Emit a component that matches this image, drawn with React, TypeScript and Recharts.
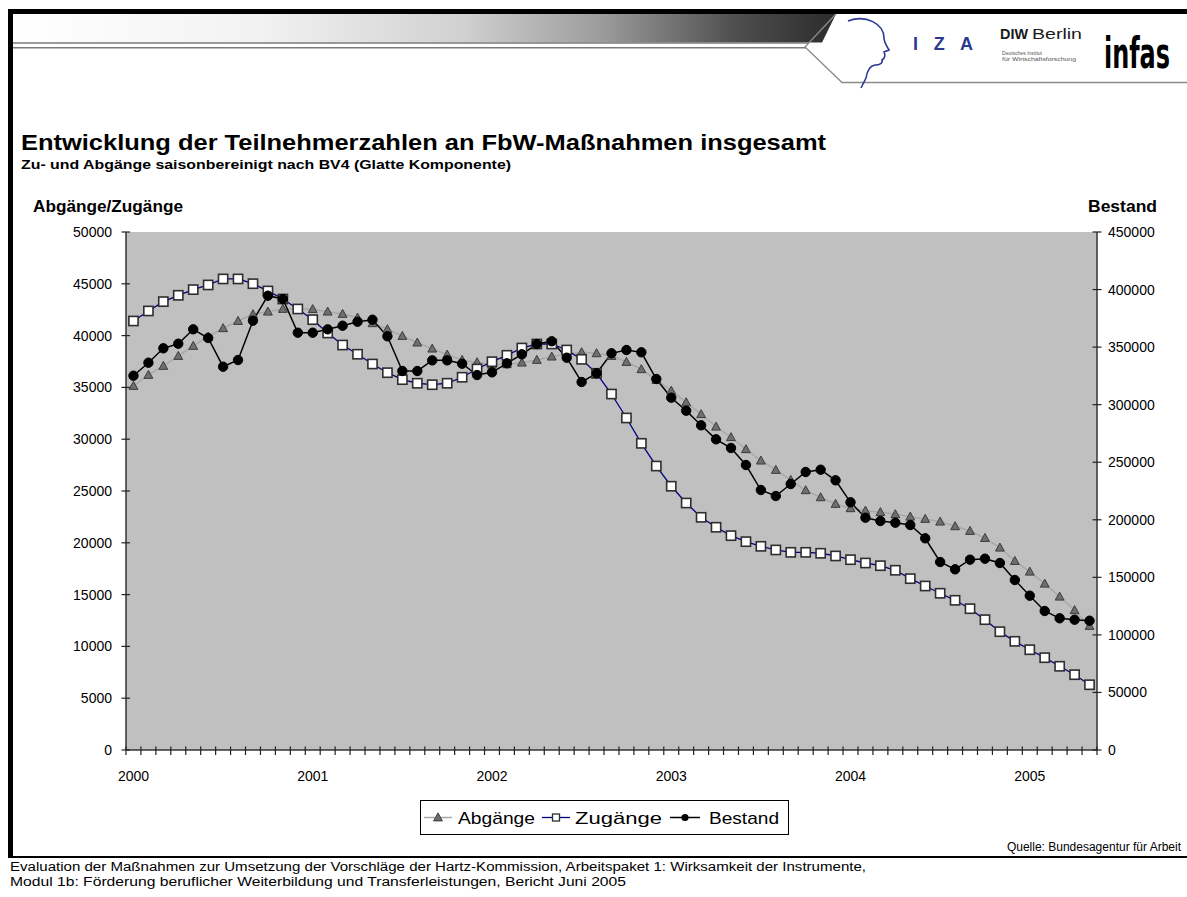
import React from 'react';
import { ComposedChart, Line, XAxis, YAxis, CartesianGrid } from 'recharts';

const months = [
  '2000-01','2000-02','2000-03','2000-04','2000-05','2000-06','2000-07','2000-08','2000-09','2000-10','2000-11','2000-12',
  '2001-01','2001-02','2001-03','2001-04','2001-05','2001-06','2001-07','2001-08','2001-09','2001-10','2001-11','2001-12',
  '2002-01','2002-02','2002-03','2002-04','2002-05','2002-06','2002-07','2002-08','2002-09','2002-10','2002-11','2002-12',
  '2003-01','2003-02','2003-03','2003-04','2003-05','2003-06','2003-07','2003-08','2003-09','2003-10','2003-11','2003-12',
  '2004-01','2004-02','2004-03','2004-04','2004-05','2004-06','2004-07','2004-08','2004-09','2004-10','2004-11','2004-12',
  '2005-01','2005-02','2005-03','2005-04','2005-05',
];

const yearLabels = ['2000', '2001', '2002', '2003', '2004', '2005'];

const abgaenge = [
  35140, 36200, 37070, 38030, 39000, 39900, 40710, 41410, 42060, 42310,
  42570, 42600, 42550, 42310, 42090, 41730, 41190, 40610, 39960, 39320,
  38740, 38160, 37650, 37420, 37190, 37230, 37390, 37650, 37970, 38200,
  38390, 38290, 38030, 37450, 36750, 35720, 34680, 33560, 32410, 31210,
  30190, 29030, 27930, 27030, 26060, 25070, 24390, 23750, 23330, 23100,
  22950, 22750, 22520, 22300, 22040, 21590, 21140, 20460, 19530, 18240,
  17210, 16050, 14800, 13490, 11970,
];

const zugaenge = [
  41410, 42380, 43280, 43890, 44440, 44890, 45470, 45470, 45010, 44310,
  43530, 42570, 41540, 40250, 39090, 38200, 37260, 36420, 35750, 35400,
  35260, 35400, 35980, 36780, 37480, 38100, 38800, 39190, 39190, 38610,
  37710, 36360, 34360, 32050, 29600, 27410, 25460, 23840, 22460, 21500,
  20690, 20110, 19660, 19310, 19080, 19080, 18990, 18730, 18370, 18050,
  17790, 17350, 16540, 15830, 15130, 14450, 13640, 12580, 11420, 10490,
  9680, 8910, 8080, 7270, 6300,
];

const bestand = [
  325150, 336450, 348950, 352950, 365450, 357900, 332970, 338790, 372940, 394650,
  391780, 362510, 362510, 365450, 368590, 372070, 373800, 359380, 329240, 329240,
  338500, 338500, 335580, 325760, 328100, 335930, 343740, 352690, 355040, 340800,
  319680, 327240, 344610, 347480, 345480, 322290, 306050, 294750, 282070, 269900,
  262350, 247580, 225860, 220650, 231070, 241500, 243500, 234280, 215170, 201800,
  198930, 197460, 195460, 183900, 163320, 156970, 165320, 166180, 162450, 147680,
  134040, 120750, 114410, 113190, 112320,
];

const leftTicks = [0, 5000, 10000, 15000, 20000, 25000, 30000, 35000, 40000, 45000, 50000];
const rightTicks = [0, 50000, 100000, 150000, 200000, 250000, 300000, 350000, 400000, 450000];

const seriesNames = ['Abgänge', 'Zugänge', 'Bestand'];

const data = months.map((m, i) => ({
  month: m,
  abg: abgaenge[i],
  zug: zugaenge[i],
  best: bestand[i],
}));

// layout
const W = 1187;
const H = 897;
const YW = 60;
const XH = 40;
const MARGIN = { top: 232, left: 66, right: 30, bottom: 107 };
const PL = MARGIN.left + YW;
const PR = W - MARGIN.right - YW;
const PB = H - MARGIN.bottom - XH;
const STEP = (PR - PL) / months.length;
const XPAD = { left: STEP / 2, right: STEP / 2 };

const FONT = '"Liberation Sans", Arial, Helvetica, sans-serif';

const XTick = (p: any) => {
  const { x, payload, index } = p;
  const m = String(payload.value);
  const yr = m.slice(0, 4);
  const showYear = m.endsWith('-01') && yearLabels.includes(yr);
  const isLast = index === months.length - 1;
  return (
    <g>
      <line x1={x - STEP / 2} x2={x - STEP / 2} y1={PB - 3.5} y2={PB + 5} stroke="#222" strokeWidth={1.2} />
      {isLast && (
        <line x1={x + STEP / 2} x2={x + STEP / 2} y1={PB - 3.5} y2={PB + 5} stroke="#222" strokeWidth={1.2} />
      )}
      {showYear && (
        <text x={x} y={PB + 31} textAnchor="middle" fontSize={14} fontFamily={FONT} fill="#000">
          {yr}
        </text>
      )}
    </g>
  );
};

const LTick = (p: any) => {
  const { y, payload } = p;
  return (
    <g>
      <line x1={PL - 4.5} x2={PL + 4} y1={y} y2={y} stroke="#222" strokeWidth={1.2} />
      <text x={PL - 14} y={y} dy={5} textAnchor="end" fontSize={14} fontFamily={FONT} fill="#000">
        {payload.value}
      </text>
    </g>
  );
};

const RTick = (p: any) => {
  const { y, payload } = p;
  return (
    <g>
      <line x1={PR - 4.5} x2={PR + 4.5} y1={y} y2={y} stroke="#222" strokeWidth={1.2} />
      <text x={PR + 11} y={y} dy={5} textAnchor="start" fontSize={14} fontFamily={FONT} fill="#000">
        {payload.value}
      </text>
    </g>
  );
};

const triDot = (p: any) => {
  const { cx, cy, index } = p;
  if (cx == null || cy == null) return <g key={`t${index}`} />;
  return (
    <path
      key={`t${index}`}
      d={`M${cx},${cy - 4.6} L${cx + 4.4},${cy + 3.4} L${cx - 4.4},${cy + 3.4} Z`}
      fill="#6e6e6e"
      stroke="#3c3c3c"
      strokeWidth={1}
    />
  );
};

const sqDot = (p: any) => {
  const { cx, cy, index } = p;
  if (cx == null || cy == null) return <g key={`s${index}`} />;
  return (
    <rect
      key={`s${index}`}
      x={cx - 4.6}
      y={cy - 4.6}
      width={9.2}
      height={9.2}
      fill="#ffffff"
      stroke="#2e2e2e"
      strokeWidth={1.6}
    />
  );
};

const circDot = (p: any) => {
  const { cx, cy, index } = p;
  if (cx == null || cy == null) return <g key={`c${index}`} />;
  return <circle key={`c${index}`} cx={cx} cy={cy} r={4.7} fill="#000" stroke="#000" strokeWidth={1} />;
};

const Overlay = () => (
  <svg width={W} height={H} style={{ position: 'absolute', left: 0, top: 0 }}>
    <defs>
      <linearGradient id="hdr" x1="13" y1="0" x2="835" y2="0" gradientUnits="userSpaceOnUse">
        <stop offset="0" stopColor="#ffffff" />
        <stop offset="0.3" stopColor="#f2f2f2" />
        <stop offset="0.55" stopColor="#d0d0d0" />
        <stop offset="0.72" stopColor="#9a9a9a" />
        <stop offset="0.88" stopColor="#4e4e4e" />
        <stop offset="1" stopColor="#2c2c2c" />
      </linearGradient>
    </defs>
    {/* frame */}
    <rect x={8} y={9} width={W - 8} height={5} fill="#000" />
    <rect x={8} y={9} width={5} height={849} fill="#000" />
    <rect x={8} y={856} width={W - 8} height={2} fill="#000" />
    {/* header band */}
    <polygon points="13,14 836,14 822,42.5 13,42.5" fill="url(#hdr)" />
    <line x1={13} x2={808} y1={43} y2={43} stroke="#7a7a7a" strokeWidth={1.6} />
    <line x1={13} x2={806} y1={47.8} y2={47.8} stroke="#7a7a7a" strokeWidth={1.6} />
    <polyline points="836,14 805,47 842,82.5 1187,82.5" fill="none" stroke="#8a8a8a" strokeWidth={1.3} />
    {/* IZA logo */}
    <path
      d="M848,21 C866,14 884,24 884,38 C884,42 886,45 889,50 L884,52 C886,56 884,59 882,60 C883,63 880,65 875,65 C869,66 867,71 866,78 L861,88"
      fill="none"
      stroke="#2b3990"
      strokeWidth={1.6}
    />
    <text x={913} y={49.5} fontSize={18} fontWeight="bold" fontFamily={FONT} fill="#2b3990" textLength={60} lengthAdjust="spacing">
      I Z A
    </text>
    <text x={1000} y={39} fontSize={14} fontWeight="bold" fontFamily={FONT} fill="#1a1a1a" textLength={28} lengthAdjust="spacingAndGlyphs">
      DIW
    </text>
    <text x={1032} y={39} fontSize={14} fontFamily={FONT} fill="#1a1a1a" textLength={50} lengthAdjust="spacingAndGlyphs">
      Berlin
    </text>
    <text x={1002} y={55} fontSize={5.5} fontFamily={FONT} fill="#555" textLength={40} lengthAdjust="spacingAndGlyphs">
      Deutsches Institut
    </text>
    <text x={1002} y={61} fontSize={5.5} fontFamily={FONT} fill="#555" textLength={74} lengthAdjust="spacingAndGlyphs">
      für Wirtschaftsforschung
    </text>
    <g transform="translate(1104,68) scale(1,1.5)">
      <text x={0} y={0} fontSize={29} fontWeight="bold" fontFamily={'"Liberation Sans Narrow", "DejaVu Sans Condensed", ' + FONT} fill="#000" textLength={66} lengthAdjust="spacingAndGlyphs">
        infas
      </text>
    </g>
    {/* titles */}
    <text x={21} y={150} fontSize={22} fontWeight="bold" fontFamily={FONT} fill="#000" textLength={805} lengthAdjust="spacingAndGlyphs">
      Entwicklung der Teilnehmerzahlen an FbW-Maßnahmen insgesamt
    </text>
    <text x={21} y={169} fontSize={12.5} fontWeight="bold" fontFamily={FONT} fill="#000" textLength={490} lengthAdjust="spacingAndGlyphs">
      Zu- und Abgänge saisonbereinigt nach BV4 (Glatte Komponente)
    </text>
    <text x={33} y={212} fontSize={17} fontWeight="bold" fontFamily={FONT} fill="#000" textLength={150} lengthAdjust="spacingAndGlyphs">
      Abgänge/Zugänge
    </text>
    <text x={1088} y={212} fontSize={17} fontWeight="bold" fontFamily={FONT} fill="#000" textLength={69} lengthAdjust="spacingAndGlyphs">
      Bestand
    </text>
    {/* legend */}
    <rect x={420.5} y={800.5} width={368} height={34} fill="#fff" stroke="#000" strokeWidth={1} />
    <line x1={424} x2={452} y1={817.5} y2={817.5} stroke="#a8a8a8" strokeWidth={1.5} />
    <path d="M438,812.9 L442.4,820.9 L433.6,820.9 Z" fill="#6e6e6e" stroke="#3c3c3c" strokeWidth={1} />
    <text x={458} y={824} fontSize={17} fontFamily={FONT} fill="#000" textLength={77} lengthAdjust="spacingAndGlyphs">
      {seriesNames[0]}
    </text>
    <line x1={542} x2={570} y1={817.5} y2={817.5} stroke="#000080" strokeWidth={1.3} />
    <rect x={552.5} y={814} width={7} height={7} fill="#fff" stroke="#2e2e2e" strokeWidth={1.3} />
    <text x={575} y={824} fontSize={17} fontFamily={FONT} fill="#000" textLength={87} lengthAdjust="spacingAndGlyphs">
      {seriesNames[1]}
    </text>
    <line x1={670} x2={700} y1={817.5} y2={817.5} stroke="#000" strokeWidth={1.5} />
    <circle cx={685} cy={817.5} r={3.6} fill="#000" />
    <text x={709} y={824} fontSize={17} fontFamily={FONT} fill="#000" textLength={70} lengthAdjust="spacingAndGlyphs">
      {seriesNames[2]}
    </text>
    {/* source & footer */}
    <text x={1181} y={851} fontSize={12} fontFamily={FONT} fill="#000" textAnchor="end">
      Quelle: Bundesagentur für Arbeit
    </text>
    <text x={10} y={871} fontSize={12.5} fontFamily={FONT} fill="#000" textLength={856} lengthAdjust="spacingAndGlyphs">
      Evaluation der Maßnahmen zur Umsetzung der Vorschläge der Hartz-Kommission, Arbeitspaket 1: Wirksamkeit der Instrumente,
    </text>
    <text x={10} y={886} fontSize={12.5} fontFamily={FONT} fill="#000" textLength={616} lengthAdjust="spacingAndGlyphs">
      Modul 1b: Förderung beruflicher Weiterbildung und Transferleistungen, Bericht Juni 2005
    </text>
  </svg>
);

export default function App() {
  return (
    <div style={{ position: 'absolute', left: 0, top: 0, width: W, height: H, background: '#fff', fontFamily: FONT }}>
      <Overlay />
      <div style={{ position: 'absolute', left: 0, top: 0 }}>
        <ComposedChart width={W} height={H} data={data} margin={MARGIN}>
          <CartesianGrid yAxisId="left" fill="#c0c0c0" stroke="none" horizontal={false} vertical={false} />
          <XAxis
            dataKey="month"
            interval={0}
            height={XH}
            padding={XPAD}
            tick={<XTick />}
            tickLine={false}
            axisLine={{ stroke: '#333', strokeWidth: 1.5 }}
          />
          <XAxis
            xAxisId="top"
            dataKey="month"
            orientation="top"
            height={0}
            padding={XPAD}
            tick={false}
            tickLine={false}
            axisLine={{ stroke: '#808080', strokeWidth: 1.2 }}
          />
          <YAxis
            yAxisId="left"
            width={YW}
            domain={[0, 50000]}
            ticks={leftTicks}
            interval={0}
            tick={<LTick />}
            tickLine={false}
            axisLine={{ stroke: '#333', strokeWidth: 1.5 }}
          />
          <YAxis
            yAxisId="right"
            orientation="right"
            width={YW}
            domain={[0, 450000]}
            ticks={rightTicks}
            interval={0}
            tick={<RTick />}
            tickLine={false}
            axisLine={{ stroke: '#333', strokeWidth: 1.5 }}
          />
          <Line
            yAxisId="left"
            dataKey="abg"
            name={seriesNames[0]}
            stroke="#a8a8a8"
            strokeWidth={1.5}
            dot={triDot}
            activeDot={false}
            isAnimationActive={false}
          />
          <Line
            yAxisId="left"
            dataKey="zug"
            name={seriesNames[1]}
            stroke="#000080"
            strokeWidth={1.3}
            dot={sqDot}
            activeDot={false}
            isAnimationActive={false}
          />
          <Line
            yAxisId="right"
            dataKey="best"
            name={seriesNames[2]}
            stroke="#000"
            strokeWidth={1.5}
            dot={circDot}
            activeDot={false}
            isAnimationActive={false}
          />
        </ComposedChart>
      </div>
    </div>
  );
}
